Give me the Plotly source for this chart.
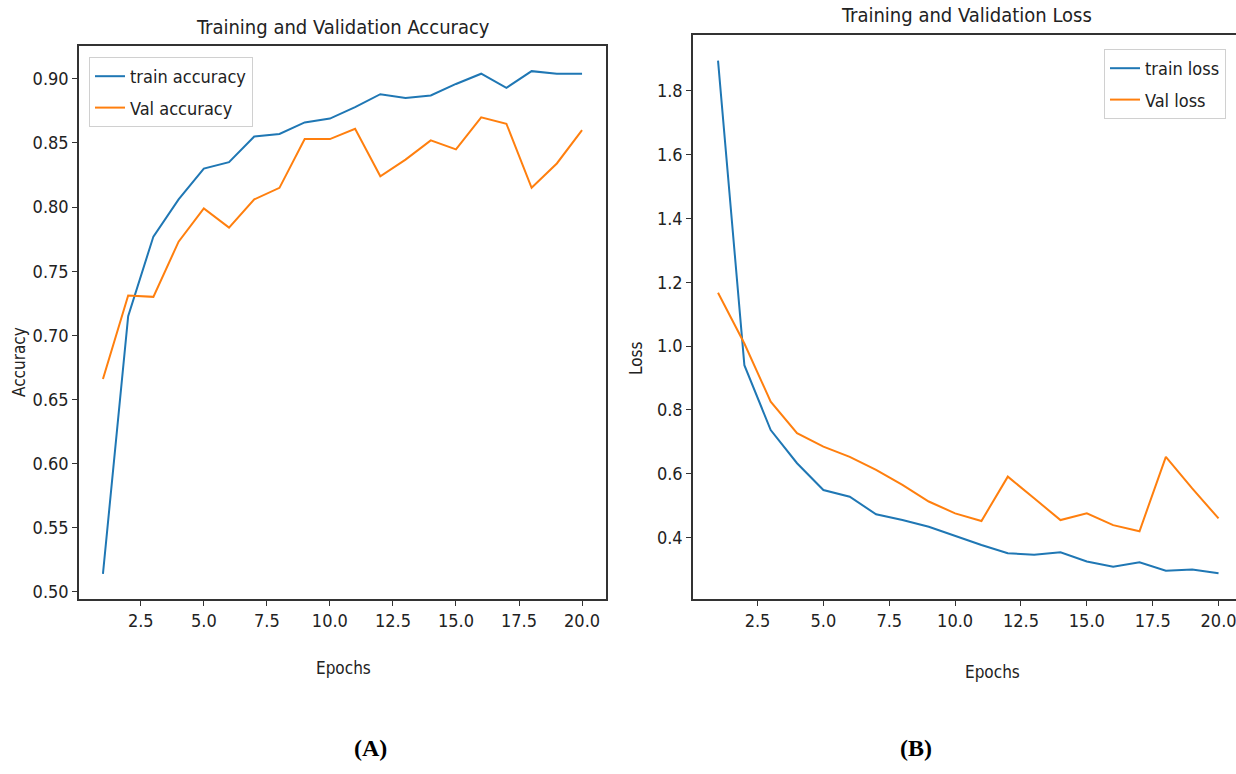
import plotly.graph_objects as go

epochs = list(range(1, 21))
train_acc = [0.514, 0.715, 0.777, 0.806, 0.830, 0.835, 0.855, 0.857, 0.866, 0.869,
             0.878, 0.888, 0.885, 0.887, 0.896, 0.904, 0.893, 0.906, 0.904, 0.904]
val_acc = [0.666, 0.731, 0.730, 0.773, 0.799, 0.784, 0.806, 0.815, 0.853, 0.853,
           0.861, 0.824, 0.837, 0.852, 0.845, 0.870, 0.865, 0.815, 0.834, 0.860]
train_loss = [1.894, 0.940, 0.737, 0.633, 0.549, 0.528, 0.473, 0.455, 0.434, 0.405,
              0.377, 0.351, 0.346, 0.354, 0.325, 0.309, 0.323, 0.296, 0.300, 0.288]
val_loss = [1.167, 1.008, 0.826, 0.727, 0.685, 0.653, 0.612, 0.565, 0.513, 0.476,
            0.452, 0.591, 0.523, 0.455, 0.476, 0.439, 0.420, 0.653, 0.554, 0.460]

x_ticks = [2.5, 5.0, 7.5, 10.0, 12.5, 15.0, 17.5, 20.0]
acc_ticks = [0.50, 0.55, 0.60, 0.65, 0.70, 0.75, 0.80, 0.85, 0.90]
loss_ticks = [0.4, 0.6, 0.8, 1.0, 1.2, 1.4, 1.6, 1.8]

BLUE = "#1f77b4"
ORANGE = "#ff7f0e"
FONT = "DejaVu Sans Condensed, Liberation Sans Narrow, DejaVu Sans, sans-serif"
W, H = 1236, 774


def px(X):
    return X / W


def py(Y):
    return 1 - Y / H


def padded(vals, frac=0.05):
    lo, hi = min(vals), max(vals)
    d = (hi - lo) * frac
    return [lo - d, hi + d]


fig = go.Figure()
fig.add_trace(go.Scatter(x=epochs, y=train_acc, mode="lines", name="train accuracy", legendgroup="a1",
                         line=dict(color=BLUE, width=2), xaxis="x", yaxis="y", legend="legend"))
fig.add_trace(go.Scatter(x=epochs, y=val_acc, mode="lines", name="Val accuracy", legendgroup="a2",
                         line=dict(color=ORANGE, width=2), xaxis="x", yaxis="y", legend="legend"))
fig.add_trace(go.Scatter(x=epochs, y=train_loss, mode="lines", name="train loss", legendgroup="b1",
                         line=dict(color=BLUE, width=2), xaxis="x2", yaxis="y2", legend="legend2"))
fig.add_trace(go.Scatter(x=epochs, y=val_loss, mode="lines", name="Val loss", legendgroup="b2",
                         line=dict(color=ORANGE, width=2), xaxis="x2", yaxis="y2", legend="legend2"))

axis_common = dict(showgrid=False, zeroline=False, showline=True, linecolor="#333333",
                   linewidth=1.5, ticks="outside", ticklen=5, tickcolor="#333333",
                   tickfont=dict(family=FONT, size=18, color="#222222"), automargin=False,
                   ticklabeloverflow="allow")

x_lo = 1 - 0.05 * 19
x_hi = 20 + 0.05 * 19
# right panel is cut off at the page edge
x2_hi = x_lo + (W - 693) / ((1218.5 - 757.5) / 17.5)

legend_common = dict(bgcolor="rgba(255,255,255,0.9)", bordercolor="#d0d0d0", borderwidth=1,
                     font=dict(family=FONT, size=18, color="#222222"), itemwidth=30,
                     tracegroupgap=5)

fig.update_layout(
    width=W, height=H,
    margin=dict(l=0, r=0, t=0, b=0),
    paper_bgcolor="white", plot_bgcolor="white",
    showlegend=True,
    xaxis=dict(domain=[px(79), px(606)], anchor="y", range=[x_lo, x_hi],
               tickvals=x_ticks, ticktext=[f"{v:.1f}" for v in x_ticks], mirror=True, **axis_common),
    yaxis=dict(domain=[py(599), py(46)], anchor="x", range=padded(train_acc + val_acc),
               tickvals=acc_ticks, ticktext=[f"{v:.2f}" for v in acc_ticks], mirror=True, **axis_common),
    xaxis2=dict(domain=[px(693), 1.0], anchor="y2", range=[x_lo, x2_hi],
                tickvals=x_ticks, ticktext=[f"{v:.1f}" for v in x_ticks], mirror=True, **axis_common),
    yaxis2=dict(domain=[py(599), py(35)], anchor="x2", range=padded(train_loss + val_loss),
                tickvals=loss_ticks, ticktext=[f"{v:.1f}" for v in loss_ticks], mirror=False, **axis_common),
    legend=dict(x=px(89), y=py(57), xanchor="left", yanchor="top", **legend_common),
    legend2=dict(x=px(1226), y=py(49), xanchor="right", yanchor="top", **legend_common),
)


def ann(text, X, Y, size, angle=0, family=FONT, color="#222222"):
    fig.add_annotation(text=text, x=px(X), y=py(Y), xref="paper", yref="paper",
                       showarrow=False, textangle=angle, xanchor="center", yanchor="middle",
                       font=dict(family=family, size=size, color=color))


ann("Training and Validation Accuracy", 343, 27, 20)
ann("Training and Validation Loss", 966, 15, 20)
ann("Accuracy", 19, 362, 17, angle=-90)
ann("Loss", 636, 358, 17, angle=-90)
ann("Epochs", 343, 668, 17)
ann("Epochs", 992, 672, 17)
ann("<b>(A)</b>", 370, 748, 24, family="Liberation Serif, Times New Roman, serif", color="black")
ann("<b>(B)</b>", 916, 748, 24, family="Liberation Serif, Times New Roman, serif", color="black")

fig.write_html("out.html", config={"displayModeBar": False},
               post_script="document.body.style.margin='0px';")
